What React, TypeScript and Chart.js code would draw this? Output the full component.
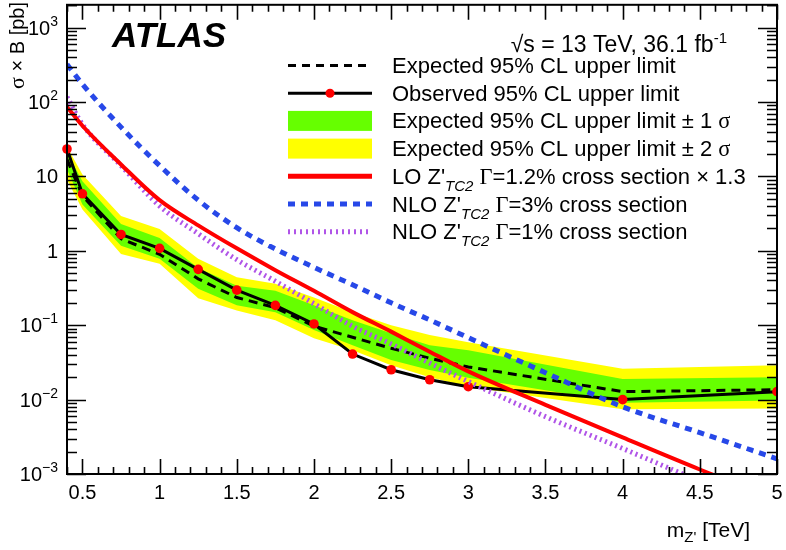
import React, { useEffect, useRef } from 'react';
import { Chart, registerables } from 'chart.js';

Chart.register(...registerables);

// ---------------- data ----------------
const limitMass = [0.4, 0.5, 0.75, 1.0, 1.25, 1.5, 1.75, 2.0, 2.25, 2.5, 2.75, 3.0, 4.0, 5.0];
const observed = [23.4, 5.85, 1.66, 1.08, 0.564, 0.296, 0.185, 0.104, 0.041, 0.0252, 0.0185, 0.0149, 0.01, 0.0128];
const expected = [17, 5.5, 1.45, 0.9, 0.42, 0.236, 0.172, 0.097, 0.069, 0.049, 0.036, 0.0275, 0.0128, 0.0136];
const band1Up = [21, 8.6, 2.29, 1.49, 0.59, 0.34, 0.29, 0.185, 0.117, 0.078, 0.054, 0.046, 0.019, 0.02];
const band1Down = [12.5, 4.2, 1.17, 0.78, 0.31, 0.185, 0.149, 0.086, 0.054, 0.034, 0.025, 0.0197, 0.0091, 0.0097];
const band2Up = [25, 10.6, 2.93, 1.97, 0.78, 0.44, 0.36, 0.236, 0.149, 0.1, 0.074, 0.059, 0.026, 0.029];
const band2Down = [9, 3.6, 0.91, 0.67, 0.23, 0.158, 0.117, 0.067, 0.046, 0.029, 0.02, 0.0149, 0.0074, 0.0076];

const theoryMass = [0.4, 0.5, 0.75, 1.0, 1.25, 1.5, 1.75, 2.0, 2.25, 2.5, 2.75, 3.0, 3.5, 4.0, 4.5, 5.0];
const loTC2w12x13 = [86, 48, 14.5, 4.8, 2.2, 1.08, 0.55, 0.29, 0.15, 0.082, 0.044, 0.024, 0.0085, 0.0031, 0.00115, 0.00045];
const nloTC2w3 = [321, 174, 46, 14, 4.8, 2.05, 1.06, 0.6, 0.35, 0.2, 0.118, 0.068, 0.023, 0.008, 0.0036, 0.0016];
const nloTC2w1 = [117, 50, 14, 4.0, 1.7, 0.76, 0.39, 0.195, 0.097, 0.056, 0.031, 0.0175, 0.0059, 0.0022, 0.0008, 0.0003];

const xTickLabels = ['0.5', '1', '1.5', '2', '2.5', '3', '3.5', '4', '4.5', '5'];
const yTickExponents = [-3, -2, -1, 0, 1, 2, 3];

// ---------------- styles ----------------
const SANS = '"Liberation Sans", Arial, Helvetica, sans-serif';
const SERIF = '"Liberation Serif", "DejaVu Serif", serif';
const YELLOW = '#ffff00';
const GREEN = '#66ff00';
const RED = '#ff0000';
const BLUE = '#2748e8';
const MAGENTA = '#b054e8';

const pts = (xs: number[], ys: number[]) => xs.map((x, i) => ({ x, y: ys[i] }));

type Seg = { t: string; font: string; dy?: number };

function drawRich(ctx: CanvasRenderingContext2D, x: number, y: number, segs: Seg[], align: 'left' | 'right' | 'center' = 'left') {
  let total = 0;
  segs.forEach((s) => {
    ctx.font = s.font;
    total += ctx.measureText(s.t).width;
  });
  let cx = align === 'right' ? x - total : align === 'center' ? x - total / 2 : x;
  ctx.textAlign = 'left';
  ctx.textBaseline = 'alphabetic';
  segs.forEach((s) => {
    ctx.font = s.font;
    ctx.fillText(s.t, cx, y + (s.dy || 0));
    cx += ctx.measureText(s.t).width;
  });
}

const f = (size: number, extra = '') => `${extra} ${size}px ${SANS}`.trim();
const fs = (size: number, extra = '') => `${extra} ${size}px ${SERIF}`.trim();

const decorPlugin = {
  id: 'atlasDecor',
  afterDatasetsDraw(chart: any) {
    const ctx: CanvasRenderingContext2D = chart.ctx;
    const { left, right, top, bottom } = chart.chartArea;
    const xs = chart.scales.x;
    const ys = chart.scales.y;
    ctx.save();

    // legend background box
    ctx.fillStyle = '#ffffff';
    ctx.fillRect(268, 52, 494, 192);

    // frame
    ctx.strokeStyle = '#000';
    ctx.lineWidth = 2;
    ctx.strokeRect(left, top, right - left, bottom - top);

    // x ticks (inward, bottom and top)
    ctx.lineWidth = 1.6;
    for (let k = 4; k <= 50; k++) {
      const v = k / 10;
      const px = Math.round(xs.getPixelForValue(v)) + 0.5;
      const len = k % 5 === 0 ? 15 : 7;
      ctx.beginPath();
      ctx.moveTo(px, bottom);
      ctx.lineTo(px, bottom - len);
      ctx.moveTo(px, top);
      ctx.lineTo(px, top + len);
      ctx.stroke();
    }
    // y ticks (inward, left and right)
    for (const e of yTickExponents) {
      for (let m = 1; m <= 9; m++) {
        const v = m * Math.pow(10, e);
        if (v > ys.max || v < ys.min) continue;
        const py = Math.round(ys.getPixelForValue(v)) + 0.5;
        const len = m === 1 ? 19 : 10;
        ctx.beginPath();
        ctx.moveTo(left, py);
        ctx.lineTo(left + len, py);
        ctx.moveTo(right, py);
        ctx.lineTo(right - len, py);
        ctx.stroke();
      }
    }
    for (let m = 2; m <= 9; m++) {
      const v = m * 1000;
      if (v > ys.max) break;
      const py = Math.round(ys.getPixelForValue(v)) + 0.5;
      ctx.beginPath();
      ctx.moveTo(left, py);
      ctx.lineTo(left + 10, py);
      ctx.moveTo(right, py);
      ctx.lineTo(right - 10, py);
      ctx.stroke();
    }

    ctx.fillStyle = '#000';
    // x tick labels
    ctx.font = f(20);
    ctx.textAlign = 'center';
    ctx.textBaseline = 'alphabetic';
    xTickLabels.forEach((lab) => {
      const px = xs.getPixelForValue(parseFloat(lab));
      const w = ctx.measureText(lab).width;
      const x = Math.min(px, right + 9 - w / 2);
      ctx.fillText(lab, x, 499);
    });
    // y tick labels
    yTickExponents.forEach((e) => {
      const py = ys.getPixelForValue(Math.pow(10, e));
      let segs: Seg[];
      if (e === 0) segs = [{ t: '1', font: f(20) }];
      else if (e === 1) segs = [{ t: '10', font: f(20) }];
      else segs = [{ t: '10', font: f(20) }, { t: e < 0 ? '\u2212' + (-e) : String(e), font: f(14), dy: -9 }];
      drawRich(ctx, 58, py + 7, segs, 'right');
    });

    // axis titles
    drawRich(ctx, 750, 537, [
      { t: 'm', font: f(21) },
      { t: "Z'", font: f(15), dy: 5 },
      { t: ' [TeV]', font: f(21) },
    ], 'right');

    ctx.save();
    ctx.translate(24, 2);
    ctx.rotate(-Math.PI / 2);
    drawRich(ctx, 0, 0, [
      { t: '\u03c3', font: fs(22) },
      { t: ' \u00d7 B [pb]', font: f(20) },
    ], 'right');
    ctx.restore();

    // ATLAS label
    drawRich(ctx, 112, 47, [{ t: 'ATLAS', font: f(35, 'italic bold') }]);
    // energy / luminosity
    drawRich(ctx, 727, 52, [
      { t: '\u221as = 13 TeV, 36.1 fb', font: f(23) },
      { t: '-1', font: f(15), dy: -9 },
    ], 'right');

    // legend
    const x0 = 288, x1 = 372, tx = 392;
    const rows = [0, 1, 2, 3, 4, 5, 6].map((i) => 65.5 + 27.7 * i);
    const line = (y: number, color: string, width: number, dash: number[]) => {
      ctx.save();
      ctx.strokeStyle = color;
      ctx.lineWidth = width;
      ctx.setLineDash(dash);
      ctx.beginPath();
      ctx.moveTo(x0, y);
      ctx.lineTo(x1, y);
      ctx.stroke();
      ctx.restore();
    };
    line(rows[0], '#000', 3, [8, 6]);
    line(rows[1], '#000', 3, []);
    ctx.fillStyle = RED;
    ctx.beginPath();
    ctx.arc((x0 + x1) / 2, rows[1], 4.5, 0, Math.PI * 2);
    ctx.fill();
    ctx.fillStyle = GREEN;
    ctx.fillRect(x0, rows[2] - 10, x1 - x0, 20);
    ctx.fillStyle = YELLOW;
    ctx.fillRect(x0, rows[3] - 10, x1 - x0, 20);
    line(rows[4], RED, 5, []);
    line(rows[5], BLUE, 5, [7, 6]);
    line(rows[6], MAGENTA, 5, [2, 4]);

    ctx.fillStyle = '#000';
    const T = f(22);
    const SUB = f(15, 'italic');
    const G = fs(22.5);
    const legendTexts: Seg[][] = [
      [{ t: 'Expected 95% CL upper limit', font: T }],
      [{ t: 'Observed 95% CL upper limit', font: T }],
      [{ t: 'Expected 95% CL upper limit \u00b1 1 ', font: T }, { t: '\u03c3', font: G }],
      [{ t: 'Expected 95% CL upper limit \u00b1 2 ', font: T }, { t: '\u03c3', font: G }],
      [{ t: "LO Z'", font: T }, { t: 'TC2', font: SUB, dy: 7 }, { t: ' ', font: T }, { t: '\u0393', font: G }, { t: '=1.2% cross section \u00d7 1.3', font: T }],
      [{ t: "NLO Z'", font: T }, { t: 'TC2', font: SUB, dy: 7 }, { t: ' ', font: T }, { t: '\u0393', font: G }, { t: '=3% cross section', font: T }],
      [{ t: "NLO Z'", font: T }, { t: 'TC2', font: SUB, dy: 7 }, { t: ' ', font: T }, { t: '\u0393', font: G }, { t: '=1% cross section', font: T }],
    ];
    legendTexts.forEach((segs, i) => drawRich(ctx, tx, rows[i] + 7.5, segs));

    ctx.restore();
  },
};

export default function App() {
  const ref = useRef<HTMLCanvasElement | null>(null);
  useEffect(() => {
    if (!ref.current) return;
    const noLine = { borderWidth: 0, borderColor: 'transparent', pointRadius: 0, tension: 0 };
    const chart = new Chart(ref.current, {
      type: 'line',
      data: {
        datasets: [
          { label: '+2s', data: pts(limitMass, band2Up), fill: '+1', backgroundColor: YELLOW, order: 10, clip: 0, ...noLine } as any,
          { label: '-2s', data: pts(limitMass, band2Down), fill: false, order: 11, clip: 0, ...noLine } as any,
          { label: '+1s', data: pts(limitMass, band1Up), fill: '+1', backgroundColor: GREEN, order: 8, clip: 0, ...noLine } as any,
          { label: '-1s', data: pts(limitMass, band1Down), fill: false, order: 9, clip: 0, ...noLine } as any,
          {
            label: 'Expected', data: pts(limitMass, expected), borderColor: '#000', borderWidth: 3,
            borderDash: [9, 6], pointRadius: 0, tension: 0, fill: false, order: 6, clip: 0,
          } as any,
          {
            label: 'Observed', data: pts(limitMass, observed), borderColor: '#000', borderWidth: 3,
            pointRadius: 4.8, pointBackgroundColor: RED, pointBorderWidth: 0, pointBorderColor: RED,
            tension: 0, fill: false, order: 5, clip: { left: 6, right: 1, top: 0, bottom: 0 },
          } as any,
          {
            label: 'NLO 1%', data: pts(theoryMass, nloTC2w1), borderColor: MAGENTA, borderWidth: 5,
            borderDash: [2, 3.5], pointRadius: 0, cubicInterpolationMode: 'monotone', fill: false, order: 4, clip: 0,
          } as any,
          {
            label: 'NLO 3%', data: pts(theoryMass, nloTC2w3), borderColor: BLUE, borderWidth: 5,
            borderDash: [7, 6], pointRadius: 0, cubicInterpolationMode: 'monotone', fill: false, order: 3, clip: 0,
          } as any,
          {
            label: 'LO 1.2%', data: pts(theoryMass, loTC2w12x13), borderColor: RED, borderWidth: 4,
            pointRadius: 0, cubicInterpolationMode: 'monotone', fill: false, order: 2, clip: 0,
          } as any,
        ],
      },
      options: {
        responsive: false,
        maintainAspectRatio: false,
        animation: false,
        layout: { padding: { left: 67, top: 2, right: 9, bottom: 76 } },
        scales: {
          x: { type: 'linear', min: 0.4, max: 5, display: false },
          y: { type: 'logarithmic', min: 0.001, max: 2030, display: false },
        },
        plugins: { legend: { display: false }, tooltip: { enabled: false } },
        events: [],
      },
      plugins: [decorPlugin],
    });
    return () => chart.destroy();
  }, []);

  return (
    <div style={{ position: 'absolute', left: 0, top: 0, width: 786, height: 550, background: '#fff' }}>
      <canvas ref={ref} width={786} height={550} style={{ width: 786, height: 550, display: 'block' }} />
    </div>
  );
}
